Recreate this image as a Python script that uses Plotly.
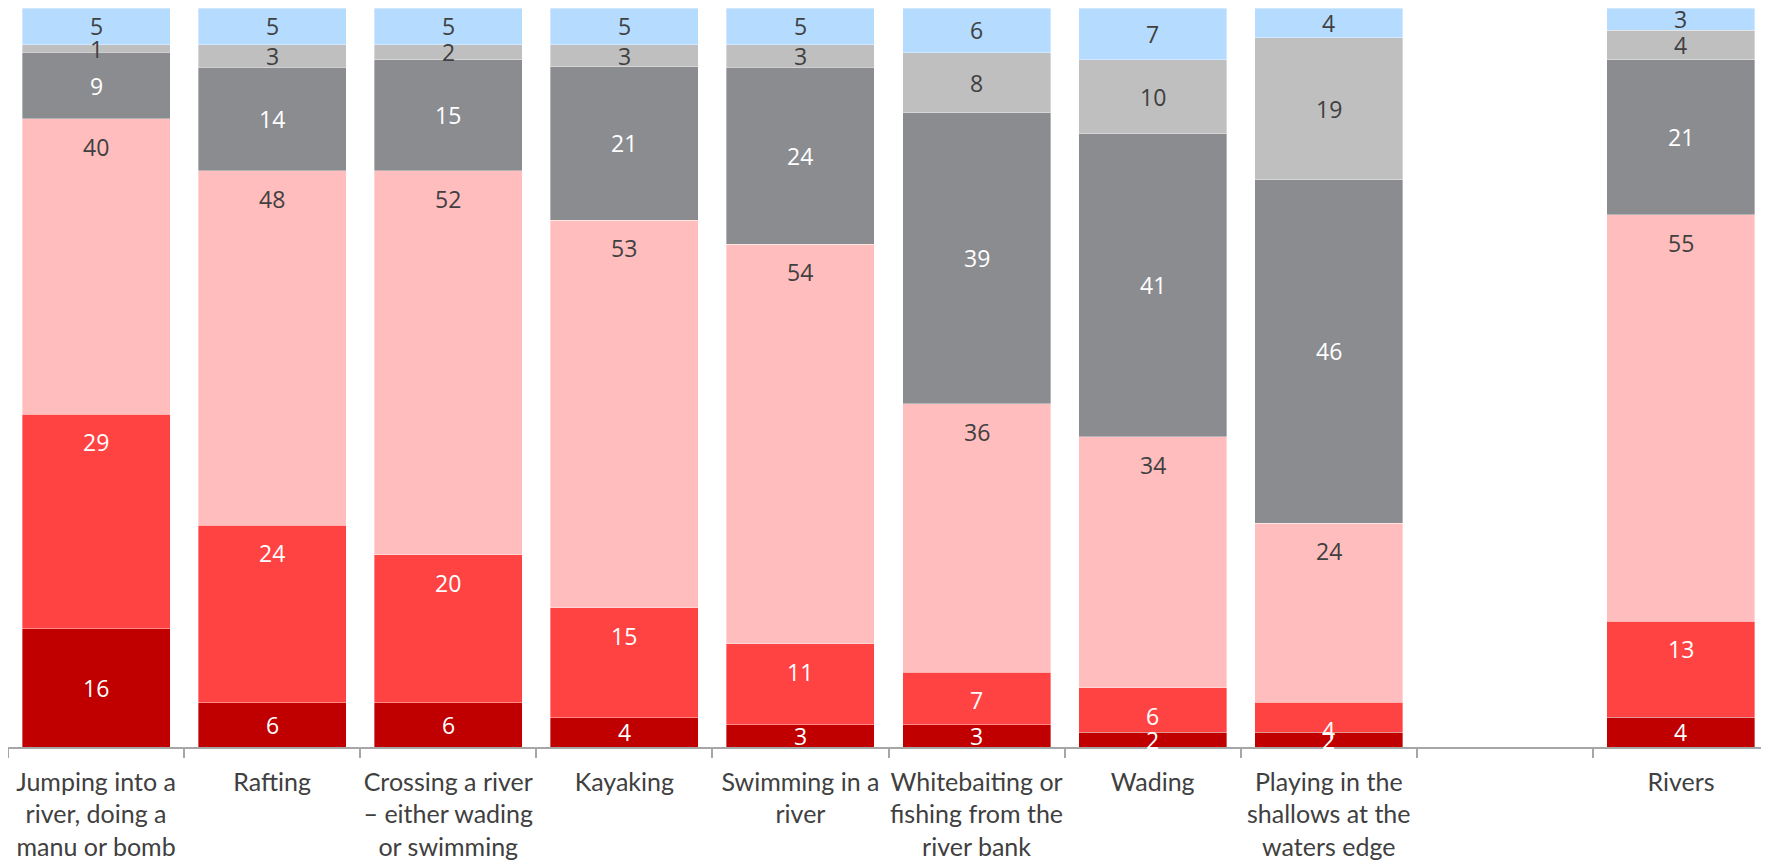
import plotly.graph_objects as go

categories = [
    "Jumping into a<br>river, doing a<br>manu or bomb",
    "Rafting",
    "Crossing a river<br>– either wading<br>or swimming",
    "Kayaking",
    "Swimming in a<br>river",
    "Whitebaiting or<br>fishing from the<br>river bank",
    "Wading",
    "Playing in the<br>shallows at the<br>waters edge",
    " ",
    "Rivers",
]

s1 = [16, 6, 6, 4, 3, 3, 2, 2, None, 4]
s2 = [29, 24, 20, 15, 11, 7, 6, 4, None, 13]
s3 = [40, 48, 52, 53, 54, 36, 34, 24, None, 55]
s4 = [9, 14, 15, 21, 24, 39, 41, 46, None, 21]
s5 = [1, 3, 2, 3, 3, 8, 10, 19, None, 4]
s6 = [5, 5, 5, 5, 5, 6, 7, 4, None, 3]

series = [s1, s2, s3, s4, s5, s6]
colors = ["#C00000", "#FF4343", "#FFBDBD", "#8B8C90", "#BFBFBF", "#B5DBFF"]
text_colors = ["#FFFFFF", "#FFFFFF", "#404040", "#FFFFFF", "#404040", "#404040"]
top_anchored = [False, True, True, False, False, False]

LABEL_FONT = "Open Sans"
fig = go.Figure()
annotations = []

n = len(categories)
totals = [sum(s[i] for s in series) if s1[i] is not None else None for i in range(n)]

for k, (vals, col, tcol, top) in enumerate(zip(series, colors, text_colors, top_anchored)):
    fig.add_trace(go.Bar(
        x=categories, y=vals,
        marker=dict(color=col, line=dict(color="rgba(255,255,255,0.6)", width=0.6)),
        showlegend=False,
    ))
    for i, v in enumerate(vals):
        if v is None:
            continue
        lower = sum(series[j][i] for j in range(k))
        upper = lower + v
        if top:
            y = upper / totals[i] * 100
            shift = -28
        else:
            y = (lower + upper) / 2 / totals[i] * 100
            shift = 0
        annotations.append(dict(
            x=categories[i], y=y,
            text=str(v), showarrow=False, yanchor="middle",
            yshift=shift, xref="x", yref="y",
            font=dict(family=LABEL_FONT, size=23, color=tcol),
        ))

fig.update_layout(
    barmode="stack",
    barnorm="percent",
    bargap=0.16,
    width=1761, height=853,
    margin=dict(l=0, r=0, t=0, b=114),
    plot_bgcolor="white", paper_bgcolor="white",
    annotations=annotations,
    showlegend=False,
)
fig.update_xaxes(
    type="category",
    categoryorder="array", categoryarray=categories,
    showline=True, linecolor="#A6A6A6", linewidth=1.5,
    ticks="outside", tickson="boundaries", ticklen=9, tickcolor="#A6A6A6", tickwidth=1.5,
    tickfont=dict(family="Lato", size=25, color="#404040"),
    tickangle=0,
    automargin=False,
    ticklabelstandoff=12,
    showgrid=False,
)
fig.update_yaxes(range=[0, 100], visible=False, showgrid=False)

fig.write_html("out.html")
